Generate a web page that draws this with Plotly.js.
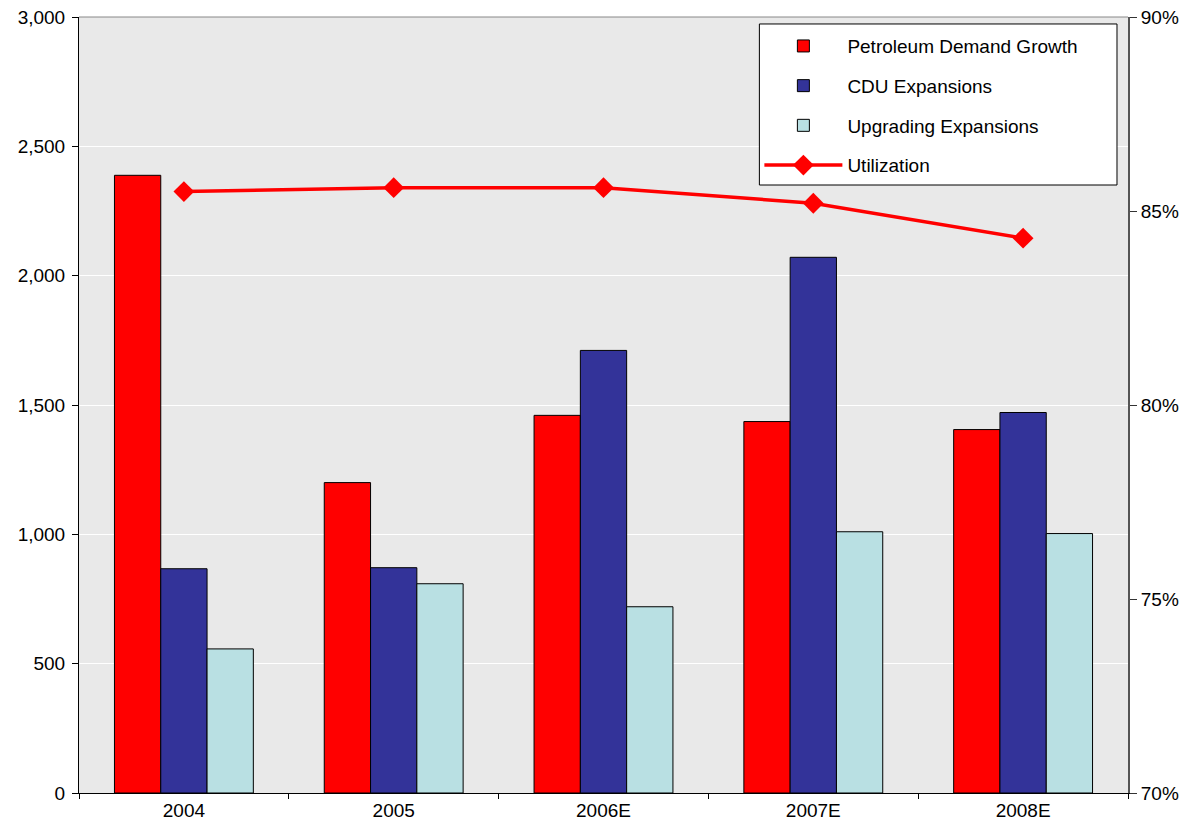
<!DOCTYPE html>
<html>
<head>
<meta charset="utf-8">
<script src="https://cdn.plot.ly/plotly-3.0.1.min.js"></script>
<style>html,body{margin:0;padding:0;background:#fff;}#chart{width:1201px;height:830px;}</style>
</head>
<body>
<div id="chart"></div>
<script>
const categories = ["2004", "2005", "2006E", "2007E", "2008E"];
const petroleumDemandGrowth = [2388, 1200, 1460, 1436, 1405];
const cduExpansions = [867, 871, 1711, 2071, 1471];
const upgradingExpansions = [557, 809, 720, 1010, 1003];
const utilization = [85.5, 85.6, 85.6, 85.2, 84.3];
const leftTicks = [0, 500, 1000, 1500, 2000, 2500, 3000];
const rightTicks = [70, 75, 80, 85, 90];
const rightTickLabels = ["70%", "75%", "80%", "85%", "90%"];

const font = {family: "Liberation Sans, Arial, sans-serif", size: 19, color: "#000"};
const barLine = {color: "#000", width: 1};

const traces = [
  {type: "bar", name: "Petroleum Demand Growth", x: categories, y: petroleumDemandGrowth,
   marker: {color: "#FF0000", line: barLine}, legendgroup: "a"},
  {type: "bar", name: "CDU Expansions", x: categories, y: cduExpansions,
   marker: {color: "#333399", line: barLine}, legendgroup: "b"},
  {type: "bar", name: "Upgrading Expansions", x: categories, y: upgradingExpansions,
   marker: {color: "#B9E0E3", line: barLine}, legendgroup: "c"},
  {type: "scatter", mode: "lines+markers", name: "Utilization", x: categories, y: utilization,
   yaxis: "y2", line: {color: "#FF0000", width: 3.5},
   marker: {symbol: "diamond", size: 16, color: "#FF0000"}, legendgroup: "d"}
];

const layout = {
  width: 1201, height: 830,
  margin: {l: 79, r: 73, t: 17, b: 37},
  paper_bgcolor: "#ffffff",
  plot_bgcolor: "#e9e9e9",
  font: font,
  barmode: "group",
  bargap: 0.338,
  bargroupgap: 0,
  showlegend: true,
  legend: {
    x: 0.6486, y: 0.987, xanchor: "left", yanchor: "top",
    bgcolor: "rgba(0,0,0,0)", borderwidth: 0,
    traceorder: "grouped", tracegroupgap: 12,
    font: font, itemwidth: 78
  },
  xaxis: {
    type: "category", showgrid: false, showline: true, linecolor: "#000", linewidth: 1,
    ticks: "outside", tickson: "boundaries", ticklen: 5, tickcolor: "#000",
    tickfont: font, zeroline: false
  },
  yaxis: {
    range: [0, 3000], tickvals: leftTicks, tickformat: ",", showline: true, linecolor: "#000",
    linewidth: 1, ticks: "outside", ticklen: 6, tickcolor: "#000", showgrid: true,
    gridcolor: "#ffffff", gridwidth: 1, zeroline: false, tickfont: font, ticklabelstandoff: 3
  },
  yaxis2: {
    overlaying: "y", side: "right", range: [70, 90], tickmode: "array",
    tickvals: rightTicks, ticktext: rightTickLabels,
    showline: true, linecolor: "#555", linewidth: 2, ticks: "outside", ticklen: 7,
    tickcolor: "#333", showgrid: false, zeroline: false, tickfont: font
  },
  shapes: [
    {type: "line", xref: "paper", yref: "paper", x0: 0, x1: 1, y0: 1, y1: 1,
     line: {color: "#888", width: 1}},
    {type: "rect", xref: "paper", yref: "paper", x0: 0.6486, x1: 0.9895, y0: 0.7835, y1: 0.991,
     fillcolor: "#ffffff", line: {color: "#000", width: 1}, layer: "above"}
  ]
};

Plotly.newPlot("chart", traces, layout, {displayModeBar: false, staticPlot: true});
</script>
</body>
</html>
